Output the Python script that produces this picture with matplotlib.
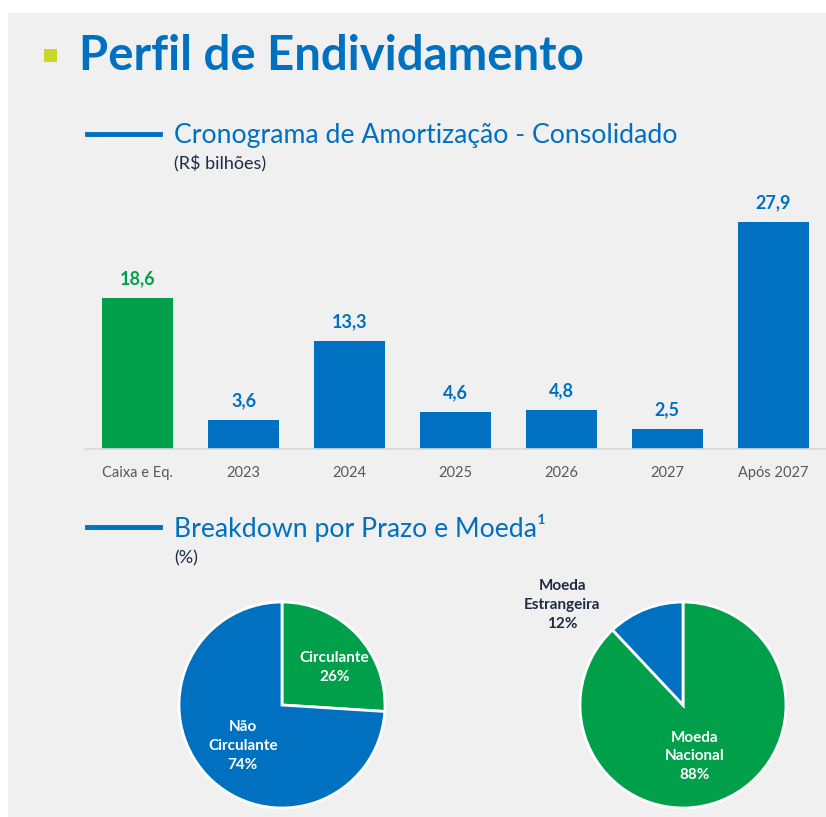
import matplotlib.pyplot as plt
from matplotlib.lines import Line2D
from matplotlib.patches import Rectangle

# dados
categorias = ['Caixa e Eq.', '2023', '2024', '2025', '2026', '2027', 'Após 2027']
valores = [18.6, 3.6, 13.3, 4.6, 4.8, 2.5, 27.9]

prazo_nomes = ['Circulante', 'Não\nCirculante']
prazo_pct = [26, 74]
moeda_nomes = ['Moeda\nNacional', 'Moeda\nEstrangeira']
moeda_pct = [88, 12]

AZUL = '#0070C0'
VERDE = '#00A04A'
FUNDO = '#F0F0F0'
ESCURO = '#1F2A44'

plt.rcParams['font.family'] = ['Lato', 'DejaVu Sans']

W, H = 826, 817
fig = plt.figure(figsize=(W / 100, H / 100), dpi=100)
fig.patch.set_facecolor('white')


def fx(px):
    return px / W


def fy(py):
    return 1 - py / H


# fundo cinza (borda branca em cima e à esquerda)
fig.patches.append(Rectangle((fx(8), 0), 1, fy(13), transform=fig.transFigure,
                             facecolor=FUNDO, edgecolor='none', zorder=-10))

# titulo
fig.patches.append(Rectangle((fx(44), fy(62)), fx(13), 13 / H, transform=fig.transFigure,
                             facecolor='#C8D72A', edgecolor='none'))
fig.text(fx(79), fy(56), 'Perfil de Endividamento', color=AZUL, fontsize=34,
         fontweight='bold', va='center', ha='left')

# secao 1
fig.add_artist(Line2D([fx(87), fx(160)], [fy(134), fy(134)], color=AZUL, lw=3.5))
fig.text(fx(174), fy(135), 'Cronograma de Amortização - Consolidado', color=AZUL,
         fontsize=19.2, va='center', ha='left')
fig.text(fx(174), fy(164), '(R$ bilhões)', color=ESCURO, fontsize=13,
         va='center', ha='left')

# secao 2
fig.add_artist(Line2D([fx(87), fx(160)], [fy(527), fy(527)], color=AZUL, lw=3.5))
fig.text(fx(174), fy(528), 'Breakdown por Prazo e Moeda¹', color=AZUL,
         fontsize=19.2, va='center', ha='left')
fig.text(fx(174), fy(558), '(%)', color=ESCURO, fontsize=13,
         va='center', ha='left')

# barras
ax = fig.add_axes([fx(85), fy(449), fx(741), (449 - 190) / H])
ax.set_facecolor('none')
cores = [VERDE] + [AZUL] * (len(valores) - 1)
x = range(len(categorias))
bars = ax.bar(x, valores, width=0.67, color=cores)
for b, v, c in zip(bars, valores, cores):
    ax.annotate(f'{v:.1f}'.replace('.', ','), (b.get_x() + b.get_width() / 2, v),
                xytext=(0, 7.5), textcoords='offset points', ha='center', va='bottom',
                color=c, fontsize=13, fontweight='bold')
ax.set_xlim(-0.5, len(categorias) - 0.5)
ax.set_ylim(0, 31.8)
ax.set_xticks(list(x))
ax.set_xticklabels(categorias, fontsize=10.5, color='#595959')
ax.tick_params(axis='x', length=0, pad=12)
ax.set_yticks([])
for s in ['top', 'right', 'left']:
    ax.spines[s].set_visible(False)
ax.spines['bottom'].set_color('#D9D9D9')
ax.spines['bottom'].set_linewidth(1.2)

# pizzas
R = 103


def pizza_ax(cx, cy):
    a = fig.add_axes([fx(cx - R), fy(cy + R), fx(2 * R), 2 * R / H])
    return a


ax1 = pizza_ax(282, 705)
ax1.pie(prazo_pct, colors=[VERDE, AZUL], startangle=90, counterclock=False,
        wedgeprops=dict(edgecolor='white', linewidth=2))
ax1.set_xlim(-1.0, 1.0)
ax1.set_ylim(-1.0, 1.0)
ax1.text(0.51, 0.36, f'{prazo_nomes[0]}\n{prazo_pct[0]}%', ha='center', va='center',
         color='white', fontsize=11, fontweight='bold', linespacing=1.45)
ax1.text(-0.38, -0.40, f'{prazo_nomes[1]}\n{prazo_pct[1]}%', ha='center', va='center',
         color='white', fontsize=11, fontweight='bold', linespacing=1.45)

ax2 = pizza_ax(683, 705)
ax2.pie(moeda_pct, colors=[VERDE, AZUL], startangle=90, counterclock=False,
        wedgeprops=dict(edgecolor='white', linewidth=2))
ax2.set_xlim(-1.0, 1.0)
ax2.set_ylim(-1.0, 1.0)
ax2.text(0.11, -0.50, f'{moeda_nomes[0]}\n{moeda_pct[0]}%', ha='center', va='center',
         color='white', fontsize=11, fontweight='bold', linespacing=1.45)
ax2.text(-1.17, 0.97, f'{moeda_nomes[1]}\n{moeda_pct[1]}%', ha='center', va='center',
         color=ESCURO, fontsize=11, fontweight='bold', linespacing=1.45)

fig.savefig('out.png', dpi=100, facecolor=fig.get_facecolor())
